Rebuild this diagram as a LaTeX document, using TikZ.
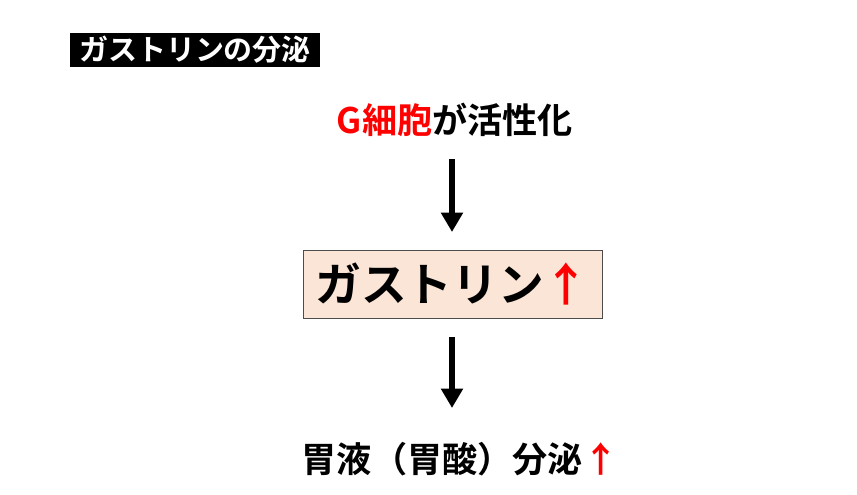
\documentclass[tikz,border=0pt]{standalone}
\usepackage{fontspec}
\setmainfont{Noto Sans CJK JP}[BoldFont={* Bold}]
\usetikzlibrary{positioning, arrows.meta}
\definecolor{peach}{HTML}{FBE5D6}

\begin{document}
\begin{tikzpicture}[
    midasi/.style={
        fill=black,
        text=white,
        font=\bfseries\fontsize{16.5}{18}\selectfont,
        inner xsep=5pt,
        inner ysep=2pt,
    },
    bun/.style={font=\bfseries\fontsize{20}{23}\selectfont},
    hako/.style={
        rectangle,
        draw=black!70,
        fill=peach,
        font=\bfseries\fontsize{26}{29}\selectfont,
        minimum width=5.98cm,
        minimum height=1.36cm,
    },
    arr/.style={-{Triangle[width=12pt,length=11pt]}, line width=3pt}
]
\useasboundingbox (0,0) rectangle (17.14,9.9);

% Nodos
\node[midasi] (title) at (3.9,8.9) {ガストリンの分泌};
\node[bun] (gcell) at (9.1,7.5) {\textcolor{red}{G細胞}が活性化};
\node[hako] (gastrin) at (9.05,4.22) {ガストリン\textcolor{red}{↑}};
\node[bun] (ieki) at (9.2,0.72) {胃液（胃酸）分泌\textcolor{red}{↑}};

% Conexiones
\draw[arr] (9.04,6.72) -- (9.04,5.26);
\draw[arr] (9.04,3.16) -- (9.04,1.74);

\end{tikzpicture}
\end{document}
